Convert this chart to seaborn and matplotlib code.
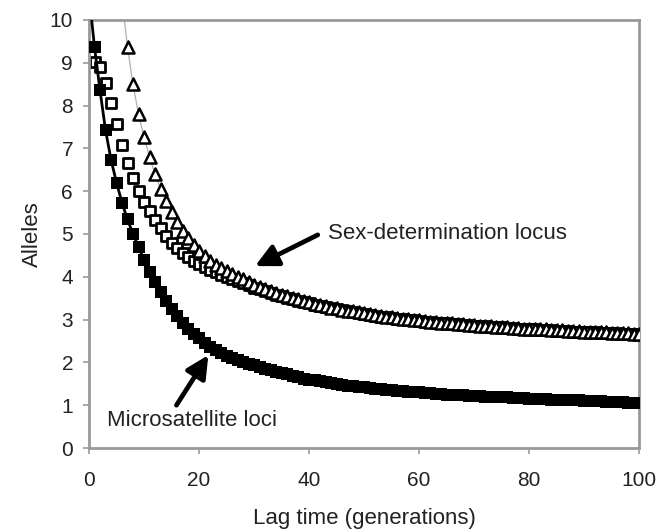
import numpy as np
import pandas as pd
import matplotlib
matplotlib.use("Agg")
import matplotlib.pyplot as plt
import seaborn as sns

# lag time in generations
gens_micro = list(range(0, 101))
gens_sex = list(range(1, 101))
gens_tri = list(range(6, 101))

# microsatellite loci (filled squares + black line)
micro_alleles = [
    10.60, 9.37, 8.36, 7.43, 6.74, 6.20, 5.73, 5.34, 5.00, 4.70,
    4.40, 4.12, 3.87, 3.64, 3.43, 3.24, 3.08, 2.93, 2.79, 2.67,
    2.56, 2.46, 2.37, 2.29, 2.22, 2.16, 2.10, 2.05, 2.01, 1.97,
    1.93, 1.89, 1.85, 1.82, 1.78, 1.75, 1.72, 1.68, 1.65, 1.62,
    1.60, 1.58, 1.56, 1.54, 1.52, 1.50, 1.48, 1.46, 1.45, 1.43,
    1.42, 1.40, 1.39, 1.37, 1.36, 1.35, 1.34, 1.33, 1.32, 1.31,
    1.30, 1.29, 1.28, 1.27, 1.26, 1.25, 1.25, 1.24, 1.23, 1.22,
    1.22, 1.21, 1.20, 1.20, 1.19, 1.18, 1.18, 1.17, 1.16, 1.16,
    1.15, 1.15, 1.14, 1.14, 1.13, 1.13, 1.12, 1.12, 1.11, 1.11,
    1.10, 1.10, 1.09, 1.09, 1.08, 1.08, 1.07, 1.07, 1.06, 1.06, 1.05,
]

# sex-determination locus, open squares
sex_sq_alleles = [
    9.03, 8.91, 8.52, 8.05, 7.56, 7.08, 6.66, 6.31, 6.00, 5.75,
    5.53, 5.33, 5.14, 4.95, 4.80, 4.67, 4.56, 4.46, 4.37, 4.30,
    4.23, 4.17, 4.11, 4.05, 4.00, 3.95, 3.90, 3.85, 3.80, 3.75,
    3.71, 3.66, 3.62, 3.58, 3.54, 3.50, 3.47, 3.44, 3.41, 3.38,
    3.35, 3.32, 3.29, 3.27, 3.24, 3.22, 3.19, 3.17, 3.15, 3.13,
    3.11, 3.09, 3.07, 3.06, 3.04, 3.02, 3.01, 2.99, 2.98, 2.96,
    2.95, 2.94, 2.93, 2.92, 2.91, 2.90, 2.89, 2.88, 2.87, 2.86,
    2.85, 2.84, 2.83, 2.82, 2.82, 2.81, 2.80, 2.79, 2.79, 2.78,
    2.77, 2.76, 2.76, 2.75, 2.74, 2.74, 2.73, 2.72, 2.72, 2.71,
    2.71, 2.70, 2.69, 2.69, 2.68, 2.68, 2.67, 2.67, 2.66, 2.66,
]

# sex-determination locus, open triangles + thin grey line
sex_tri_alleles = [
    10.50, 9.36, 8.50, 7.80, 7.27,
    6.80, 6.40, 6.06, 5.77, 5.51, 5.28, 5.08, 4.90, 4.74, 4.60,
    4.48, 4.37, 4.28, 4.20, 4.13, 4.06, 4.00, 3.94, 3.88, 3.82,
    3.77, 3.72, 3.67, 3.62, 3.58, 3.54, 3.50, 3.47, 3.43, 3.40,
    3.37, 3.34, 3.31, 3.28, 3.26, 3.23, 3.21, 3.19, 3.17, 3.15,
    3.13, 3.11, 3.09, 3.07, 3.06, 3.04, 3.02, 3.01, 2.99, 2.98,
    2.97, 2.95, 2.94, 2.93, 2.92, 2.91, 2.90, 2.89, 2.88, 2.87,
    2.86, 2.85, 2.84, 2.83, 2.83, 2.82, 2.81, 2.80, 2.79, 2.79,
    2.78, 2.77, 2.77, 2.76, 2.75, 2.75, 2.74, 2.73, 2.73, 2.72,
    2.72, 2.71, 2.70, 2.70, 2.69, 2.69, 2.68, 2.68, 2.67, 2.67,
]

x_ticks = [0, 20, 40, 60, 80, 100]
y_ticks = list(range(0, 11))

sns.set_style("ticks")
plt.rcParams["font.family"] = ["Liberation Sans", "DejaVu Sans"]

fig = plt.figure(figsize=(6.64, 5.32), dpi=100)
ax = fig.add_axes([89 / 664, 1 - 448 / 532, 550 / 664, 428 / 532])

micro_df = pd.DataFrame({"gen": gens_micro, "alleles": micro_alleles})
sq_df = pd.DataFrame({"gen": gens_sex, "alleles": sex_sq_alleles})
tri_df = pd.DataFrame({"gen": gens_tri, "alleles": sex_tri_alleles})

sns.lineplot(data=tri_df, x="gen", y="alleles", ax=ax, color="#b0b0b0",
             linewidth=0.9, zorder=1)
sns.scatterplot(data=sq_df, x="gen", y="alleles", ax=ax, marker="s", s=60,
                facecolor="white", edgecolor="black", linewidth=2.0, zorder=2)
sns.scatterplot(data=tri_df, x="gen", y="alleles", ax=ax, marker="^", s=75,
                facecolor="white", edgecolor="black", linewidth=1.8, zorder=3)
sns.lineplot(data=micro_df, x="gen", y="alleles", ax=ax, color="black",
             linewidth=2.0, marker="s", markersize=8.4, markeredgewidth=0,
             zorder=4)

ax.set_xlim(0, 100)
ax.set_ylim(0, 10)
ax.set_xticks(x_ticks)
ax.set_yticks(y_ticks)
ax.tick_params(direction="out", length=4.5, width=1.2, color="#999999",
               labelsize=15, labelcolor="#222222")
ax.tick_params(axis="x", pad=12)
ax.tick_params(axis="y", pad=7)
for sp in ax.spines.values():
    sp.set_color("#999999")
    sp.set_linewidth(2)

ax.set_xlabel("Lag time (generations)", fontsize=16, color="#222222")
ax.set_ylabel("Alleles", fontsize=16, color="#222222")
ax.xaxis.set_label_coords(0.5, -0.14)
ax.yaxis.set_label_coords(-0.083, 0.5)

arrow = dict(arrowstyle="-|>,head_length=0.9,head_width=0.45", lw=3.4,
             color="black", mutation_scale=15, shrinkA=0, shrinkB=0)
ax.annotate("", xy=(30.2, 4.25), xytext=(41.6, 4.98), arrowprops=arrow)
ax.text(43.5, 5.0, "Sex-determination locus", fontsize=16, color="#222222",
        va="center", ha="left")
ax.annotate("", xy=(21.7, 2.17), xytext=(15.9, 1.0), arrowprops=arrow)
ax.text(3.2, 0.65, "Microsatellite loci", fontsize=16, color="#222222",
        va="center", ha="left")

fig.savefig("out.png", dpi=100)
